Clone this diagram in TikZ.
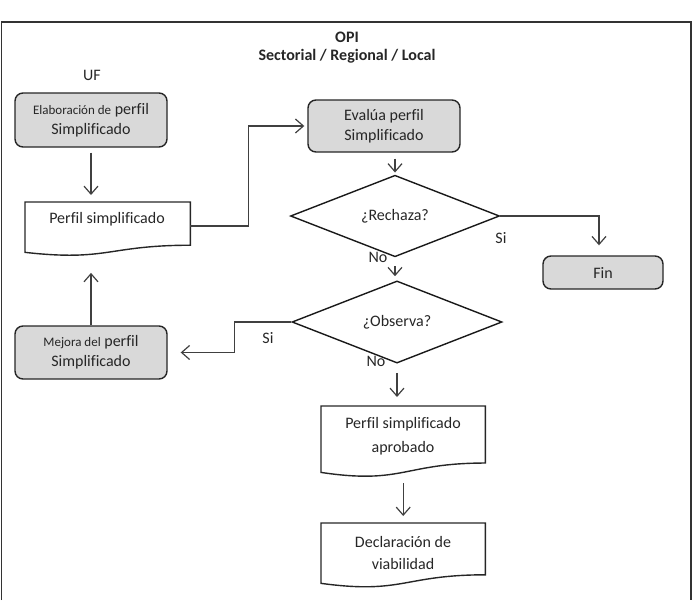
\documentclass[tikz,border=0pt]{standalone}
\usepackage{fontspec}
\setmainfont{Carlito}[Ligatures=NoCommon]
\usetikzlibrary{shapes.geometric,arrows.meta,calc}
\newcommand\docpath[1]{\draw[docline] (#1.north west) -- (#1.north east) -- ($(#1.north east)!0.802!(#1.south east)$) .. controls ($(#1.north)!0.802!(#1.south)$) and ($(#1.north)!1.107!(#1.south)$) .. ($(#1.north west)!0.934!(#1.south west)$) -- cycle;}
\begin{document}
\begin{tikzpicture}[x=1pt,y=-1pt,
  every node/.style={font=\fontsize{16}{20}\selectfont, text=black!85},
  proc/.style={draw=black!85, line width=1.4pt, fill=gray!30, rounded corners=8pt, inner sep=0pt, align=center},
  docframe/.style={inner sep=0pt, anchor=north west},
  docline/.style={draw=black!85, line width=1.4pt},
  dec/.style={draw=black!90, line width=1.4pt, diamond, inner sep=0pt},
  conn/.style={draw=black!75, line width=1.2pt},
  arr/.style={conn, -{Straight Barb[length=8pt,width=14pt]}}]
\useasboundingbox (0,0) rectangle (695,600);
\draw[line width=1.4pt, black!80] (1.5,600) -- (1.5,22) -- (691,22) -- (691,600);
\node[font=\bfseries\fontsize{16}{20}\selectfont] (opi) at (347,37) {OPI};
\node[font=\bfseries\fontsize{16}{20}\selectfont] (sec) at (347,56) {Sectorial / Regional / Local};
\node (uf) at (92,75) {UF};
% process boxes
\node[proc, minimum width=152pt, minimum height=54pt] (elab) at (91,120) {{\fontsize{13}{20}\selectfont Elaboración de} perfil\\Simplificado};
\node[proc, minimum width=152pt, minimum height=52pt] (ev) at (384,126) {Evalúa perfil\\Simplificado};
\node[proc, minimum width=120pt, minimum height=33pt] (fin) at (603,272.5) {Fin};
\node[proc, minimum width=152pt, minimum height=53pt] (mj) at (91,352.5) {{\fontsize{13}{20}\selectfont Mejora del} perfil\\Simplificado};
% decisions
\node[dec, minimum width=209pt, minimum height=63pt] (rz) at (395,216) {¿Rechaza?};
\node[dec, minimum width=210pt, minimum height=63pt] (ob) at (397,322) {¿Observa?};
% documents
\node[docframe, minimum width=165pt, minimum height=53.5pt] (p1) at (25,202) {};
\docpath{p1}
\node (p1t) at (107,219) {Perfil simplificado};
\node[docframe, minimum width=164pt, minimum height=70.7pt] (d2) at (321,406) {};
\docpath{d2}
\node[align=center, font=\fontsize{16}{24}\selectfont] (d2t) at (403,436) {Perfil simplificado\\aprobado};
\node[docframe, minimum width=164pt, minimum height=64.2pt] (d3) at (321,523) {};
\docpath{d3}
\node[align=center, font=\fontsize{16}{22}\selectfont] (d3t) at (403,553) {Declaración de\\viabilidad};
% connectors
\draw[arr, shorten <=5pt, shorten >=7pt] (elab.south) -- (elab.south |- p1.north);
\draw[arr, shorten >=3pt] ($(p1.north east)+(0,24)$) -- ++(58,0) |- (ev.west);
\draw[arr, shorten <=6pt, shorten >=2pt] (ev.south -| rz.north) -- (rz.north);
\draw[arr, shorten >=10pt] (rz.east) -| ([xshift=-4pt]fin.north);
\draw[arr, shorten <=9pt, shorten >=4pt] (rz.south) -- (rz.south |- ob.north);
\draw[arr, shorten >=13pt] (ob.west) -- ++(-57,0) |- (mj.east);
\draw[arr, shorten >=17pt] (mj.north) -- (mj.north |- p1.south);
\draw[arr, shorten <=9pt, shorten >=9pt] (ob.south) -- (ob.south |- d2.north);
\draw[arr, shorten <=6pt, shorten >=7pt] (d2.south) -- (d3.north);
% labels
\node (si1) at (501,238) {Si};
\node (no1) at (378,257) {No};
\node (si2) at (268,338) {Si};
\node (no2) at (376,361) {No};
\end{tikzpicture}
\end{document}
